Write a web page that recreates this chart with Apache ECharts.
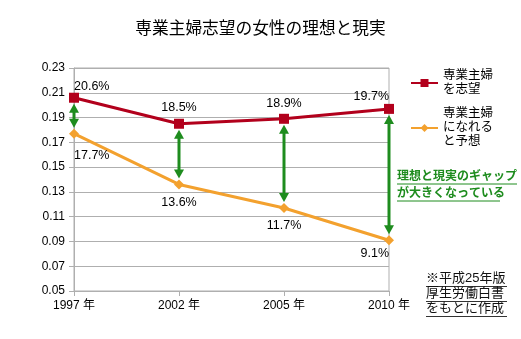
<!DOCTYPE html>
<html><head><meta charset="utf-8">
<script src="https://cdn.jsdelivr.net/npm/echarts@6/dist/echarts.min.js"></script>
<style>html,body{margin:0;padding:0;background:#fff}#c{width:521px;height:339px}</style>
</head><body><div id="c"></div>
<script>
const titleText = '専業主婦志望の女性の理想と現実';
const categories = ['1997 年', '2002 年', '2005 年', '2010 年'];
const hopeName = '専業主婦\nを志望';
const expectName = '専業主婦\nになれる\nと予想';
const hopeValues = [0.206, 0.185, 0.189, 0.197];
const expectValues = [0.177, 0.136, 0.117, 0.091];
const yTicks = [0.05, 0.07, 0.09, 0.11, 0.13, 0.15, 0.17, 0.19, 0.21, 0.23];
const noteLines = ['理想と現実のギャップ', 'が大きくなっている'];
const sourceLines = ['※平成25年版', '厚生労働白書', 'をもとに作成'];

const FONT = '"Liberation Sans", "Noto Sans CJK JP", sans-serif';
const RED = '#B2001C';
const ORANGE = '#F3A12E';
const GREEN = '#1E8C1E';
const GRID = '#AFAFAF';

const hopeDist = [0, 5, 4, 1];
const expectDist = [11, 7, 6, 2];
function labelCfg(i, n, pos, dist) {
  const c = { show: true, position: pos, distance: dist[i] };
  if (i === 0) c.align = 'left';
  if (i === n - 1) c.align = 'right';
  return c;
}
const pct = p => (p.value * 100).toFixed(1) + '%';

const chart = echarts.init(document.getElementById('c'));
const graphics = [];
noteLines.forEach((t, i) => {
  graphics.push({ type: 'text', left: 397, top: 171 + i * 17,
    style: { text: t, fill: GREEN, font: 'bold 12px ' + FONT } });
});
const noteW = [120, 103];
noteW.forEach((w, i) => {
  graphics.push({ type: 'line', shape: { x1: 397, y1: 184 + i * 17, x2: 397 + w, y2: 184 + i * 17 },
    style: { stroke: GREEN, lineWidth: 1 } });
});
sourceLines.forEach((t, i) => {
  graphics.push({ type: 'text', left: 426, top: 272 + i * 15,
    style: { text: t, fill: '#111', font: '13px ' + FONT } });
  graphics.push({ type: 'line', shape: { x1: 426, y1: 286.5 + i * 15, x2: 507, y2: 286.5 + i * 15 },
    style: { stroke: '#333', lineWidth: 1 } });
});

chart.setOption({
  animation: false,
  title: { text: titleText, left: 'center', top: 16,
    textStyle: { fontSize: 16.7, fontWeight: 'normal', color: '#000', fontFamily: FONT } },
  legend: [
    { data: [hopeName], left: 410, top: 69, padding: 0, itemWidth: 27, itemHeight: 10, itemGap: 0,
      textStyle: { fontSize: 12.5, lineHeight: 14, color: '#000', fontFamily: FONT } },
    { data: [expectName], left: 410, top: 107, padding: 0, itemWidth: 27, itemHeight: 10, itemGap: 0,
      textStyle: { fontSize: 12.5, lineHeight: 14, color: '#000', fontFamily: FONT } }
  ],
  grid: { left: 74, right: 132, top: 68, bottom: 48, show: true, borderColor: GRID, borderWidth: 1 },
  xAxis: {
    type: 'category', data: categories, boundaryGap: false,
    axisLine: { lineStyle: { color: GRID } },
    axisTick: { show: true, length: 5, alignWithLabel: true, lineStyle: { color: GRID } },
    axisLabel: { color: '#000', fontSize: 12, fontFamily: FONT, margin: 9 },
    splitLine: { show: false }
  },
  yAxis: {
    type: 'value', min: 0.05, max: 0.23,
    axisLine: { show: true, lineStyle: { color: GRID } },
    axisTick: { show: true, length: 5, customValues: yTicks, lineStyle: { color: GRID } },
    axisLabel: { customValues: yTicks, color: '#000', fontSize: 12, fontFamily: FONT, margin: 9,
      formatter: v => v.toFixed(2) },
    splitLine: { show: true, lineStyle: { color: GRID } }
  },
  graphic: graphics,
  series: [
    {
      type: 'custom', name: 'gap', z: 1,
      data: categories.map((c, i) => [i, hopeValues[i], expectValues[i]]),
      renderItem: (params, api) => {
        const a = api.coord([api.value(0), api.value(1)]);
        const b = api.coord([api.value(0), api.value(2)]);
        const x = a[0], gap = 6, hl = 9, hw = 5;
        const y1 = a[1] + gap, y2 = b[1] - gap;
        return { type: 'group', children: [
          { type: 'line', shape: { x1: x, y1: y1 + hl - 1, x2: x, y2: y2 - hl + 1 },
            style: { stroke: GREEN, lineWidth: 3 } },
          { type: 'polygon', shape: { points: [[x, y1], [x - hw, y1 + hl], [x + hw, y1 + hl]] },
            style: { fill: GREEN } },
          { type: 'polygon', shape: { points: [[x, y2], [x - hw, y2 - hl], [x + hw, y2 - hl]] },
            style: { fill: GREEN } }
        ] };
      }
    },
    {
      type: 'line', name: hopeName, z: 3,
      data: hopeValues.map((v, i) => ({ value: v, label: labelCfg(i, hopeValues.length, 'top', hopeDist) })),
      symbol: 'rect', symbolSize: 10,
      lineStyle: { color: RED, width: 3 }, itemStyle: { color: RED },
      label: { show: true, formatter: pct, color: '#000', fontSize: 12.5, fontFamily: FONT }
    },
    {
      type: 'line', name: expectName, z: 2,
      data: expectValues.map((v, i) => ({ value: v, label: labelCfg(i, expectValues.length, 'bottom', expectDist) })),
      symbol: 'diamond', symbolSize: 10,
      lineStyle: { color: ORANGE, width: 3 }, itemStyle: { color: ORANGE },
      label: { show: true, formatter: pct, color: '#000', fontSize: 12.5, fontFamily: FONT }
    }
  ]
});
</script></body></html>
